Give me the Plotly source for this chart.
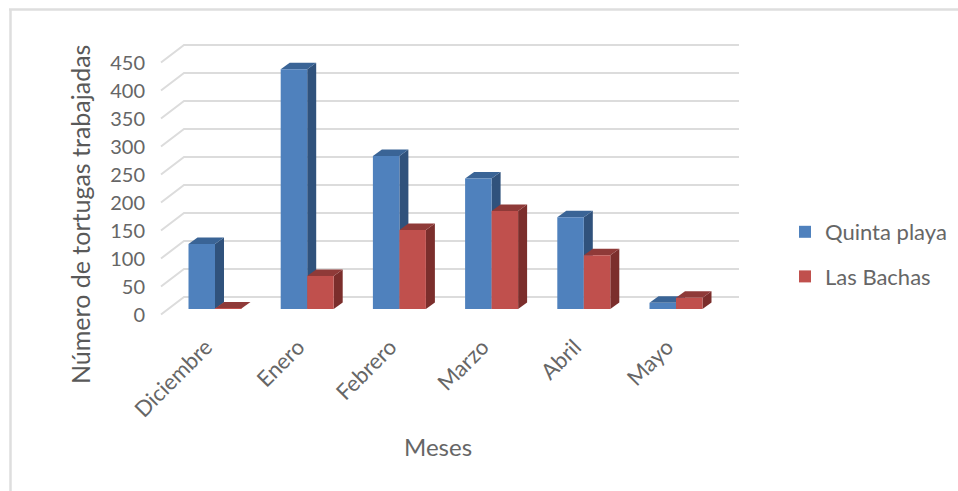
import plotly.graph_objects as go

categories = ["Diciembre", "Enero", "Febrero", "Marzo", "Abril", "Mayo"]
quinta_playa = [116, 428, 273, 233, 164, 11]
las_bachas = [1, 59, 141, 175, 96, 20]
y_ticks = [0, 50, 100, 150, 200, 250, 300, 350, 400, 450]

W, H = 958, 491
X0_PX, X_PX = 215.0, 92.2     # pixel of category 0, pixels per category
Y0_PX, Y_PX = 309.0, 0.56     # pixel of value 0, pixels per unit
L, R, T, B = 146, 745, 25, 326
xr = [(L - X0_PX) / X_PX, (R - X0_PX) / X_PX]
yr = [(Y0_PX - B) / Y_PX, (Y0_PX - T) / Y_PX]

dxu = lambda px: px / X_PX
dyu = lambda px: px / Y_PX

BAR_W = 26.5 / X_PX
DX, DY = dxu(9), dyu(6.5)

fig = go.Figure()

# back wall grid lines with left-wall diagonals
gx, gy = [], []
x_front, x_back, x_end = (161 - X0_PX) / X_PX, (184 - X0_PX) / X_PX, (739 - X0_PX) / X_PX
y_front, y_back = dyu(-5.5), dyu(12)
for v in y_ticks:
    gx += [x_front, x_back, x_end, None]
    gy += [v + y_front, v + y_back, v + y_back, None]
fig.add_trace(go.Scatter(x=gx, y=gy, mode="lines", line=dict(color="#DCDCDC", width=2),
                         showlegend=False, hoverinfo="skip"))


def face(xs, ys, color):
    fig.add_trace(go.Scatter(x=xs, y=ys, mode="lines", fill="toself", fillcolor=color,
                             line=dict(width=0, color=color), showlegend=False, hoverinfo="skip"))


for i in range(len(categories)):
    for left, val, side, top in (
        (i - BAR_W, quinta_playa[i], "#30527C", "#3A6496"),
        (i, las_bachas[i], "#7B2E2C", "#8F3A38"),
    ):
        right = left + BAR_W
        face([right, right + DX, right + DX, right, right],
             [0, DY, val + DY, val, 0], side)
        face([left, left + DX, right + DX, right, left],
             [val, val + DY, val + DY, val, val], top)

for name, vals, color, group in (("Quinta playa", quinta_playa, "#4F81BD", "a"),
                                 ("Las Bachas", las_bachas, "#C0504D", "b")):
    fig.add_trace(go.Bar(name=name, x=list(range(len(categories))), y=vals, marker_color=color,
                         marker_line_width=0, xaxis="x2", yaxis="y2", legendgroup=group,
                         hoverinfo="x+y"))

FONT = "Lato"
GREY = "#595959"
LABEL = "#666666"
fig.update_layout(
    width=W, height=H, margin=dict(l=0, r=0, t=0, b=0, autoexpand=False),
    paper_bgcolor="white", plot_bgcolor="white",
    font=dict(family=FONT, color=GREY),
    barmode="group", bargap=1 - 2 * BAR_W, bargroupgap=0,
    xaxis=dict(domain=[L / W, R / W], range=xr, tickmode="array",
               tickvals=list(range(len(categories))), ticktext=categories, tickangle=-45,
               showgrid=False, zeroline=False, showline=False, ticks="",
               ticklabelshift=-9, ticklabelstandoff=3,
               tickfont=dict(size=22, color=LABEL)),
    yaxis=dict(domain=[1 - B / H, 1 - T / H], range=yr, tickmode="array", tickvals=y_ticks,
               showgrid=False, zeroline=False, showline=False, ticks="",
               ticklabelshift=6, tickfont=dict(size=20, color=LABEL)),
    xaxis2=dict(domain=[L / W, R / W], range=xr, overlaying="x", visible=False),
    yaxis2=dict(domain=[1 - B / H, 1 - T / H], range=yr, overlaying="y", visible=False),
    legend=dict(x=785 / W, y=1 - 211 / H, xanchor="left", yanchor="top", tracegroupgap=13,
                font=dict(size=22, color=LABEL), bgcolor="rgba(0,0,0,0)"),
    annotations=[
        dict(text="Número de tortugas trabajadas", xref="paper", yref="paper", x=80 / W, y=1 - 215 / H,
             xanchor="center", yanchor="middle", textangle=-90, showarrow=False,
             font=dict(size=25, color=GREY)),
        dict(text="Meses", xref="paper", yref="paper", x=438 / W, y=1 - 446 / H,
             xanchor="center", yanchor="middle", showarrow=False,
             font=dict(size=24, color=LABEL)),
    ],
    shapes=[
        dict(type="line", xref="paper", yref="paper", x0=9 / W, x1=1.0, y0=1 - 9.5 / H, y1=1 - 9.5 / H,
             line=dict(color="#DEDEDE", width=2.5)),
        dict(type="line", xref="paper", yref="paper", x0=10.5 / W, x1=10.5 / W, y0=0, y1=1 - 9.5 / H,
             line=dict(color="#DEDEDE", width=2.5)),
    ],
)

fig.write_html("out.html", config={"displayModeBar": False},
               post_script="document.body.style.margin='0';")
